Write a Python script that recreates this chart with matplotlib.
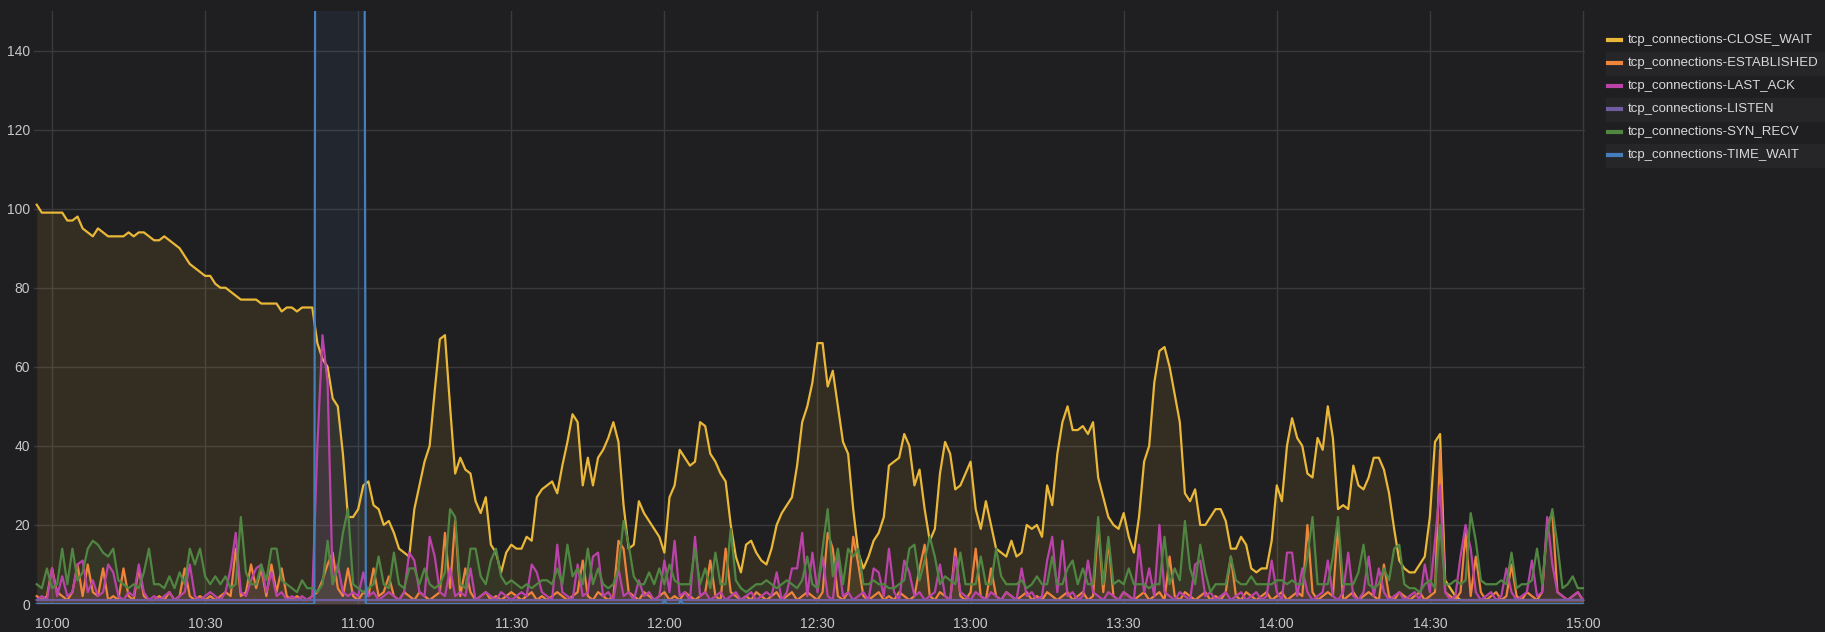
import numpy as np
import matplotlib
matplotlib.use("Agg")
import matplotlib.pyplot as plt
from matplotlib.lines import Line2D
from matplotlib.patches import Rectangle

plt.rcParams['font.family'] = ['Liberation Sans', 'DejaVu Sans']

# minutes after 10:00, one sample per minute
minutes = np.arange(-3, 301)

close_wait = [
    101, 99, 99, 99, 99, 99, 97, 97, 98, 95, 94, 93, 95, 94, 93, 93, 93, 93, 94, 93,
    94, 94, 93, 92, 92, 93, 92, 91, 90, 88, 86, 85, 84, 83, 83, 81, 80, 80, 79, 78,
    77, 77, 77, 77, 76, 76, 76, 76, 74, 75, 75, 74, 75, 75, 75, 66, 62, 60, 52, 50,
    38, 22, 22, 24, 30, 31, 25, 24, 20, 21, 18, 14, 13, 12, 24, 30, 36, 40, 54, 67,
    68, 50, 33, 37, 34, 33, 26, 23, 27, 15, 13, 8, 13, 15, 14, 14, 17, 16, 27, 29,
    30, 31, 28, 35, 41, 48, 46, 30, 37, 30, 37, 39, 42, 46, 41, 25, 14, 15, 26, 23,
    21, 19, 17, 13, 27, 30, 39, 37, 35, 36, 46, 45, 38, 36, 33, 31, 20, 12, 8, 15,
    16, 13, 11, 10, 14, 20, 23, 25, 27, 35, 46, 50, 56, 66, 66, 55, 59, 50, 41, 38,
    24, 13, 9, 12, 16, 18, 22, 35, 36, 37, 43, 40, 30, 34, 24, 16, 19, 33, 41, 38,
    29, 30, 33, 36, 24, 19, 26, 20, 14, 13, 12, 16, 12, 13, 20, 19, 20, 17, 30, 25,
    38, 46, 50, 44, 44, 45, 43, 46, 32, 27, 22, 20, 19, 23, 17, 13, 22, 36, 40, 56,
    64, 65, 60, 53, 46, 28, 26, 29, 20, 20, 22, 24, 24, 21, 14, 14, 17, 15, 9, 8,
    9, 9, 16, 30, 26, 40, 47, 42, 40, 33, 32, 42, 39, 50, 42, 24, 25, 24, 35, 30,
    29, 32, 37, 37, 34, 28, 19, 11, 9, 8, 8, 10, 12, 22, 41, 43, 6, 4, 2, 1,
    1, 1, 1, 1, 1, 1, 1, 1, 1, 1, 1, 1, 1, 1, 1, 1, 1, 1, 1, 1, 1, 1, 1, 1,
]

established = [
    2, 1, 2, 9, 3, 2, 1, 3, 10, 2, 10, 3, 2, 9, 1, 2, 1, 9, 2, 1,
    9, 2, 1, 1, 2, 1, 3, 1, 2, 9, 2, 1, 2, 1, 2, 1, 2, 3, 2, 14,
    2, 3, 10, 4, 9, 2, 10, 3, 9, 2, 1, 2, 1, 1, 2, 3, 6, 10, 13, 4,
    2, 9, 2, 1, 3, 2, 9, 2, 3, 7, 2, 1, 3, 2, 1, 3, 2, 1, 2, 3,
    18, 4, 21, 2, 9, 3, 1, 2, 3, 1, 2, 1, 2, 3, 2, 1, 2, 3, 1, 2,
    1, 2, 3, 2, 1, 2, 3, 11, 2, 1, 3, 2, 1, 2, 16, 14, 3, 2, 1, 3,
    2, 1, 2, 3, 1, 2, 1, 3, 2, 1, 2, 3, 11, 2, 1, 14, 3, 2, 1, 2,
    1, 3, 2, 1, 2, 3, 1, 2, 3, 1, 2, 3, 2, 1, 3, 18, 14, 2, 1, 3,
    17, 10, 2, 1, 2, 3, 1, 2, 1, 3, 2, 1, 2, 9, 15, 2, 1, 3, 2, 1,
    14, 2, 1, 3, 14, 2, 1, 9, 2, 1, 3, 2, 1, 2, 3, 1, 2, 1, 3, 2,
    1, 2, 3, 1, 2, 3, 1, 2, 20, 3, 16, 2, 1, 3, 2, 1, 2, 3, 1, 2,
    3, 1, 12, 2, 1, 3, 2, 1, 2, 3, 1, 2, 1, 3, 12, 2, 1, 3, 2, 1,
    2, 3, 1, 2, 3, 1, 2, 3, 2, 20, 3, 1, 2, 3, 2, 20, 1, 2, 3, 1,
    2, 3, 2, 1, 10, 2, 1, 3, 2, 1, 2, 3, 1, 2, 3, 39, 3, 2, 1, 3,
    18, 2, 12, 3, 1, 2, 3, 1, 2, 10, 2, 1, 3, 2, 1, 3, 20, 23, 3, 2, 1, 2, 3, 1,
]

last_ack = [
    1, 2, 1, 9, 2, 7, 2, 3, 10, 11, 3, 6, 2, 3, 10, 8, 2, 1, 3, 2,
    10, 3, 1, 2, 1, 2, 3, 1, 2, 3, 10, 2, 1, 2, 3, 2, 1, 3, 9, 18,
    3, 2, 6, 9, 10, 3, 8, 2, 3, 1, 2, 1, 2, 1, 2, 40, 68, 56, 5, 10,
    3, 2, 3, 2, 8, 2, 3, 1, 2, 3, 2, 1, 3, 13, 11, 3, 2, 17, 12, 3,
    2, 9, 2, 3, 2, 9, 1, 2, 3, 2, 1, 3, 2, 1, 2, 3, 2, 10, 8, 3,
    2, 1, 15, 3, 2, 1, 10, 2, 3, 12, 13, 2, 3, 1, 9, 2, 3, 1, 6, 2,
    3, 1, 2, 11, 3, 16, 2, 3, 1, 17, 2, 3, 1, 2, 3, 1, 2, 3, 1, 2,
    3, 1, 2, 3, 2, 8, 1, 3, 9, 9, 18, 2, 13, 3, 12, 2, 1, 12, 2, 3,
    1, 2, 3, 1, 9, 8, 2, 14, 3, 1, 11, 8, 2, 3, 1, 2, 3, 10, 2, 1,
    12, 3, 2, 1, 3, 2, 1, 3, 2, 1, 3, 2, 1, 9, 2, 3, 1, 2, 11, 17,
    3, 16, 2, 3, 1, 2, 11, 3, 2, 1, 3, 2, 1, 3, 2, 1, 15, 3, 9, 2,
    20, 3, 2, 1, 3, 2, 1, 10, 11, 2, 3, 1, 2, 3, 1, 2, 3, 1, 2, 3,
    1, 2, 11, 3, 1, 13, 13, 2, 9, 3, 1, 2, 3, 11, 2, 1, 3, 13, 2, 1,
    3, 12, 2, 9, 3, 1, 2, 3, 1, 2, 3, 1, 10, 3, 16, 30, 3, 1, 2, 12,
    20, 14, 3, 1, 2, 3, 1, 2, 9, 3, 1, 2, 3, 11, 2, 3, 22, 10, 3, 2, 1, 2, 3, 1,
]

syn_recv = [
    5, 4, 9, 4, 5, 14, 5, 14, 6, 8, 14, 16, 15, 13, 12, 14, 6, 5, 4, 5,
    4, 8, 14, 5, 5, 4, 7, 4, 8, 5, 14, 10, 14, 7, 5, 7, 5, 7, 4, 5,
    22, 8, 5, 5, 10, 6, 14, 14, 6, 5, 4, 3, 6, 4, 4, 3, 5, 16, 5, 9,
    18, 24, 5, 4, 3, 4, 5, 12, 5, 4, 13, 5, 4, 9, 9, 5, 9, 5, 4, 5,
    8, 24, 22, 5, 4, 14, 14, 7, 5, 11, 14, 7, 5, 6, 5, 4, 5, 4, 5, 6,
    6, 5, 9, 5, 15, 7, 9, 5, 14, 5, 9, 5, 4, 5, 9, 21, 15, 7, 5, 5,
    8, 5, 9, 5, 10, 6, 5, 5, 5, 14, 5, 9, 4, 13, 5, 5, 19, 6, 4, 3,
    4, 5, 5, 6, 5, 4, 5, 6, 5, 4, 6, 12, 5, 4, 14, 24, 7, 14, 5, 14,
    12, 14, 5, 5, 6, 5, 5, 4, 4, 5, 6, 14, 15, 6, 11, 17, 12, 5, 7, 6,
    5, 13, 5, 5, 5, 12, 5, 5, 14, 7, 5, 5, 5, 6, 4, 5, 7, 5, 5, 12,
    5, 5, 9, 11, 5, 9, 5, 5, 22, 5, 17, 5, 6, 5, 9, 5, 5, 5, 4, 5,
    5, 17, 5, 9, 6, 21, 9, 5, 15, 8, 3, 5, 5, 5, 12, 6, 5, 5, 7, 5,
    5, 5, 5, 6, 6, 5, 6, 5, 5, 12, 22, 5, 5, 5, 12, 22, 5, 5, 5, 8,
    15, 5, 4, 5, 9, 6, 14, 15, 5, 4, 4, 3, 5, 6, 4, 20, 5, 5, 6, 5,
    6, 23, 16, 6, 5, 5, 5, 6, 5, 13, 4, 5, 5, 6, 14, 5, 18, 24, 15, 4, 5, 7, 4, 4,
]

listen = [1] * len(minutes)

# TIME_WAIT is flat at 0 except the burst around 10:52-11:01
tw_minutes = [-3, 51.4, 51.6, 61.2, 61.5, 119.6, 120.0, 120.4, 122.8, 123.2, 123.6, 300]
tw_values = [0, 0, 200, 200, 0, 0, 1, 0, 0, 1, 0, 0]

series = [
    ("tcp_connections-CLOSE_WAIT", "#EAB839", minutes, close_wait),
    ("tcp_connections-ESTABLISHED", "#EF843C", minutes, established),
    ("tcp_connections-LAST_ACK", "#BA43A9", minutes, last_ack),
    ("tcp_connections-LISTEN", "#705DA0", minutes, listen),
    ("tcp_connections-SYN_RECV", "#508642", minutes, syn_recv),
    ("tcp_connections-TIME_WAIT", "#447EBC", tw_minutes, tw_values),
]

tick_labels = ["10:00", "10:30", "11:00", "11:30", "12:00", "12:30",
               "13:00", "13:30", "14:00", "14:30", "15:00"]
y_ticks = [0, 20, 40, 60, 80, 100, 120, 140]

bg = "#1f1e20"
W, H = 1825, 632
fig = plt.figure(figsize=(W / 100, H / 100), dpi=100, facecolor=bg)
ax = fig.add_axes([34 / W, 1 - 604 / H, (1585 - 34) / W, (604 - 11) / H])
ax.set_facecolor(bg)

for name, col, xs, ys in series:
    ax.fill_between(xs, ys, 0, color=col, alpha=0.1, lw=0)
    ax.plot(xs, ys, color=col, lw=1.6, solid_joinstyle="round")

ax.set_xlim(-3.53, 300.4)
ax.set_ylim(0, 150)
ax.set_xticks(np.arange(len(tick_labels)) * 30)
ax.set_xticklabels(tick_labels)
ax.set_yticks(y_ticks)
ax.grid(True, color="#3a3a3c", lw=1)
ax.set_axisbelow(True)
for s in ax.spines.values():
    s.set_visible(False)
ax.tick_params(length=0, colors="#c8c8c8", labelsize=10)
ax.tick_params(axis="x", pad=9)
ax.tick_params(axis="y", pad=3)

# legend on the right
row0, step = 40, 23
for i, (name, col, xs, ys) in enumerate(series):
    yc = row0 + i * step
    if i % 2 == 1:
        fig.patches.append(Rectangle((1606 / W, 1 - (yc + step / 2) / H), (W - 1606) / W, step / H,
                                     transform=fig.transFigure, color="#262628", zorder=0))
    fig.lines.append(Line2D([1608 / W, 1621 / W], [1 - yc / H, 1 - yc / H],
                            transform=fig.transFigure, color=col, lw=3))
    fig.text(1628 / W, 1 - yc / H, name, color="#d8d9da", fontsize=9.5, va="center", ha="left")

fig.savefig("out.png", dpi=100, facecolor=bg)
